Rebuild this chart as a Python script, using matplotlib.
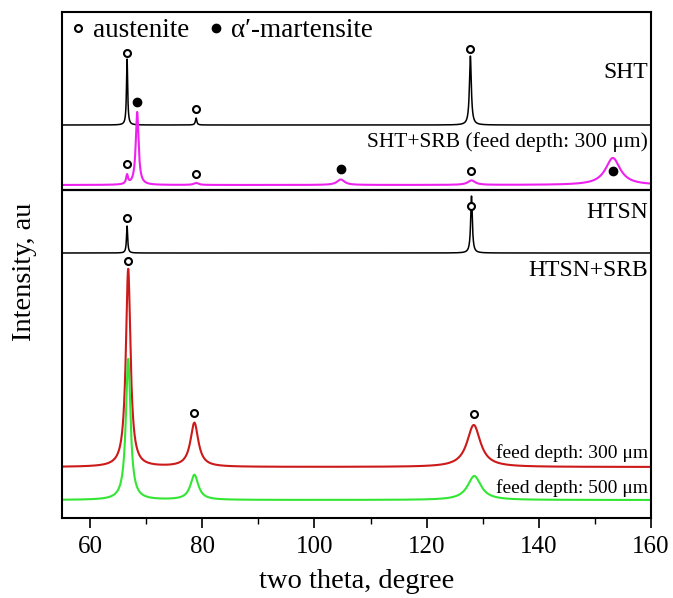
import numpy as np
import matplotlib
matplotlib.use("Agg")
import matplotlib.pyplot as plt
from matplotlib.lines import Line2D

plt.rcParams['font.family'] = ['Liberation Serif', 'DejaVu Serif']
plt.rcParams['mathtext.fontset'] = 'stix'

# ---- data (peaks: position, height, FWHM) ----
sht_base = 393
sht_pos = [66.6, 78.9, 127.8]
sht_height = [66, 7, 69]
sht_fwhm = [0.25, 0.3, 0.4]

srb_base = 333
srb_pos = [66.6, 68.4, 78.9, 104.7, 128.0, 153.2]
srb_height = [9, 73, 2, 5.5, 4.5, 27]
srb_fwhm = [0.4, 0.6, 1.0, 1.6, 1.6, 3.2]

htsn_base = 265
htsn_pos = [66.6, 128.0]
htsn_height = [27, 57]
htsn_fwhm = [0.25, 0.35]

r300_base = 51
r300_pos = [66.8, 78.6, 128.4]
r300_height = [198, 44, 42]
r300_fwhm = [1.0, 1.7, 2.9]

g500_base = 18
g500_pos = [66.8, 78.6, 128.5]
g500_height = [141, 25, 24]
g500_fwhm = [1.0, 1.7, 2.9]

separator_y = 328

# phase markers: (two theta, level)
aus_x = [66.6, 78.9, 127.8, 66.6, 78.9, 128.0, 66.6, 128.0, 66.8, 78.6, 128.4]
aus_y = [465, 409, 469, 354, 344, 347, 300, 312, 257, 105, 104]
mart_x = [68.4, 104.7, 153.2]
mart_y = [416, 349, 347]

labels = ["SHT", "SHT+SRB (feed depth: 300 μm)", "HTSN", "HTSN+SRB",
          "feed depth: 300 μm", "feed depth: 500 μm"]
label_y = [445, 376, 306, 247, 65, 30]

xticks = [60, 80, 100, 120, 140, 160]

x = np.linspace(55, 160, 6000)


def pattern(base, pos, height, fwhm):
    y = np.full_like(x, float(base))
    for p, h, w in zip(pos, height, fwhm):
        g = (w / 2) ** 2
        y += h * g / ((x - p) ** 2 + g)
    return y


fig = plt.figure(figsize=(6.73, 5.98), dpi=100)
ax = fig.add_axes([62 / 673, 1 - 518 / 598, 589 / 673, 506 / 598])

ax.plot(x, pattern(sht_base, sht_pos, sht_height, sht_fwhm), color='black', lw=1.1)
ax.plot(x, pattern(srb_base, srb_pos, srb_height, srb_fwhm), color='#ee22ee', lw=1.5)
ax.axhline(separator_y, color='black', lw=1.6)
ax.plot(x, pattern(htsn_base, htsn_pos, htsn_height, htsn_fwhm), color='black', lw=1.1)
ax.plot(x, pattern(r300_base, r300_pos, r300_height, r300_fwhm), color='#cc1a1a', lw=1.5)
ax.plot(x, pattern(g500_base, g500_pos, g500_height, g500_fwhm), color='#33e633', lw=1.5)

ax.plot(aus_x, aus_y, 'o', ms=5, mfc='white', mec='black', mew=1.5, ls='none')
ax.plot(mart_x, mart_y, 'o', ms=6, color='black', ls='none')

fs = [17, 15.5, 17, 17, 14, 14]
for t, yy, f in zip(labels, label_y, fs):
    ax.text(159.4, yy, t, ha='right', va='center', fontsize=f)

handles = [Line2D([], [], marker='o', ls='none', ms=5, mfc='white', mec='black', mew=1.5),
           Line2D([], [], marker='o', ls='none', ms=6, color='black')]
ax.legend(handles, ['austenite', 'α′-martensite'], loc='upper left', ncol=2,
          frameon=False, fontsize=19.5, handletextpad=0.15, columnspacing=0.6,
          handlelength=0.8, borderaxespad=0.0, borderpad=0.2,
          bbox_to_anchor=(0.0, 0.998))

ax.set_xlim(55, 160)
ax.set_ylim(0, 506)
ax.set_xticks(xticks)
ax.set_xticks(np.arange(70, 160, 20), minor=True)
ax.set_yticks([])
ax.tick_params(axis='x', which='major', direction='out', length=7, width=1.2,
               labelsize=18, pad=6)
ax.tick_params(axis='x', which='minor', direction='out', length=4, width=1.0)
for s in ax.spines.values():
    s.set_linewidth(1.5)

ax.set_xlabel('two theta, degree', fontsize=20.5, labelpad=8)
ax.set_ylabel('Intensity, au', fontsize=20.5)
ax.yaxis.set_label_coords(-0.043, 0.487)

fig.savefig('out.png', dpi=100)
